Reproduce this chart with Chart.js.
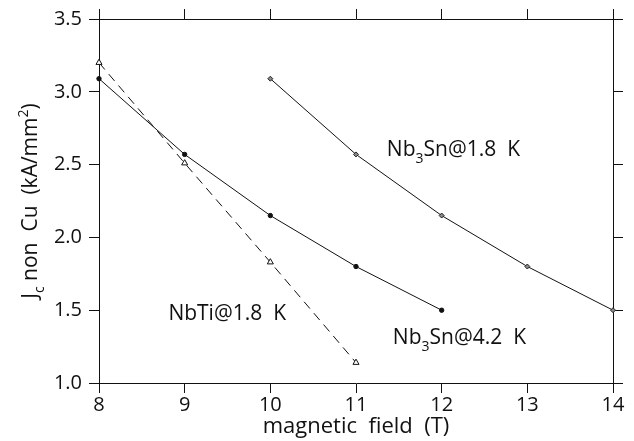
<!DOCTYPE html>
<html lang="en">
<head>
    <meta charset="UTF-8" />
    <title>Jc non Cu vs magnetic field</title>
    <script src="https://cdn.jsdelivr.net/npm/chart.js"></script>
    <style>
        html, body {
            margin: 0;
            padding: 0;
            background: #fff;
        }
        #contenedor {
            width: 634px;
            height: 441px;
        }
    </style>
</head>
<body>
    <div id="contenedor">
        <canvas id="grafico" width="634" height="441"></canvas>
    </div>

    <script>
        // datos
        const campoNbTi = [8, 9, 10, 11];
        const jcNbTi18 = [3.20, 2.51, 1.83, 1.14];
        const campoNb3Sn42 = [8, 9, 10, 11, 12];
        const jcNb3Sn42 = [3.09, 2.57, 2.15, 1.80, 1.50];
        const campoNb3Sn18 = [10, 11, 12, 13, 14];
        const jcNb3Sn18 = [3.09, 2.57, 2.15, 1.80, 1.50];

        const ejeX = { min: 8, max: 14, paso: 1 };
        const ejeY = { min: 1.0, max: 3.5, paso: 0.5 };

        const familia = "'Open Sans', 'DejaVu Sans', sans-serif";
        const negro = '#111';

        const puntos = (xs, ys) => xs.map((x, i) => ({ x: x, y: ys[i] }));

        // texto con subindices / superindices
        function textoRico(ctx, partes, x, y, tam, dibujar) {
            let cx = x;
            partes.forEach(([t, tipo]) => {
                const s = tipo === 'n' ? tam : Math.round(tam * 0.68);
                const dy = tipo === 'sub' ? tam * 0.32 : (tipo === 'sup' ? -tam * 0.42 : 0);
                ctx.font = `${s}px ${familia}`;
                if (dibujar) ctx.fillText(t, cx, y + dy);
                cx += ctx.measureText(t).width;
            });
            return cx - x;
        }

        const etiquetas = {
            id: 'etiquetas',
            afterDraw(chart) {
                const ctx = chart.ctx;
                const sx = chart.scales.x;
                const sy = chart.scales.y;
                ctx.save();
                ctx.fillStyle = negro;
                ctx.textAlign = 'left';
                ctx.textBaseline = 'alphabetic';

                textoRico(ctx, [['NbTi@1.8  K', 'n']], sx.getPixelForValue(8.81), sy.getPixelForValue(1.43), 21, true);
                textoRico(ctx, [['Nb', 'n'], ['3', 'sub'], ['Sn@1.8  K', 'n']], sx.getPixelForValue(11.36), sy.getPixelForValue(2.56), 21, true);
                textoRico(ctx, [['Nb', 'n'], ['3', 'sub'], ['Sn@4.2  K', 'n']], sx.getPixelForValue(11.43), sy.getPixelForValue(1.265), 21, true);

                // titulo eje x
                const tx = [['magnetic  field  (T)', 'n']];
                const ancho = textoRico(ctx, tx, 0, 0, 22, false);
                const cx = (chart.chartArea.left + chart.chartArea.right) / 2;
                textoRico(ctx, tx, cx - ancho / 2, 433, 22, true);

                // titulo eje y
                const ty = [['J', 'n'], ['c', 'sub'], [' non  Cu  (kA/mm', 'n'], ['2', 'sup'], [')', 'n']];
                const anchoY = textoRico(ctx, ty, 0, 0, 21, false);
                ctx.translate(37, 201);
                ctx.rotate(-Math.PI / 2);
                textoRico(ctx, ty, -anchoY / 2, 0, 21, true);
                ctx.restore();
            }
        };

        const rejilla = {
            display: true,
            drawOnChartArea: false,
            drawTicks: true,
            tickLength: 10,
            color: negro,
            lineWidth: 1
        };
        const borde = { display: true, color: negro, width: 1 };
        const fuenteTicks = { family: familia, size: 20 };

        new Chart(document.getElementById('grafico').getContext('2d'), {
            type: 'scatter',
            data: {
                datasets: [
                    {
                        label: 'NbTi@1.8 K',
                        data: puntos(campoNbTi, jcNbTi18),
                        showLine: true,
                        clip: false,
                        borderColor: negro,
                        borderWidth: 1,
                        borderDash: [9, 6],
                        pointStyle: 'triangle',
                        pointRadius: 3.5,
                        pointBackgroundColor: '#fff',
                        pointBorderColor: negro,
                        pointBorderWidth: 1
                    },
                    {
                        label: 'Nb3Sn@4.2 K',
                        data: puntos(campoNb3Sn42, jcNb3Sn42),
                        showLine: true,
                        clip: false,
                        borderColor: negro,
                        borderWidth: 1,
                        pointStyle: 'circle',
                        pointRadius: 2.2,
                        pointBackgroundColor: negro,
                        pointBorderColor: negro,
                        pointBorderWidth: 1
                    },
                    {
                        label: 'Nb3Sn@1.8 K',
                        data: puntos(campoNb3Sn18, jcNb3Sn18),
                        showLine: true,
                        clip: false,
                        borderColor: negro,
                        borderWidth: 1,
                        pointStyle: 'rectRot',
                        pointRadius: 2.5,
                        pointBackgroundColor: '#888',
                        pointBorderColor: '#222',
                        pointBorderWidth: 1
                    }
                ]
            },
            options: {
                responsive: false,
                animation: false,
                devicePixelRatio: 1,
                layout: { padding: { left: 0, top: 16, right: 21, bottom: 0 } },
                plugins: {
                    legend: { display: false },
                    tooltip: { enabled: false }
                },
                elements: { line: { tension: 0 } },
                scales: {
                    x: {
                        type: 'linear',
                        position: 'bottom',
                        min: ejeX.min,
                        max: ejeX.max,
                        ticks: {
                            stepSize: ejeX.paso,
                            color: negro,
                            padding: 0,
                            font: fuenteTicks
                        },
                        grid: rejilla,
                        border: borde,
                        afterFit: s => { s.height = 58; }
                    },
                    x2: {
                        type: 'linear',
                        position: 'top',
                        min: ejeX.min,
                        max: ejeX.max,
                        ticks: { stepSize: ejeX.paso, display: false },
                        grid: rejilla,
                        border: borde,
                        afterFit: s => { s.height = 0; }
                    },
                    y: {
                        type: 'linear',
                        position: 'left',
                        min: ejeY.min,
                        max: ejeY.max,
                        ticks: {
                            stepSize: ejeY.paso,
                            color: negro,
                            padding: 7,
                            font: fuenteTicks,
                            callback: v => v.toFixed(1)
                        },
                        grid: rejilla,
                        border: borde,
                        afterFit: s => { s.width = 99; }
                    },
                    y2: {
                        type: 'linear',
                        position: 'right',
                        min: ejeY.min,
                        max: ejeY.max,
                        ticks: { stepSize: ejeY.paso, display: false },
                        grid: rejilla,
                        border: borde,
                        afterFit: s => { s.width = 0; }
                    }
                }
            },
            plugins: [etiquetas]
        });
    </script>
</body>
</html>
